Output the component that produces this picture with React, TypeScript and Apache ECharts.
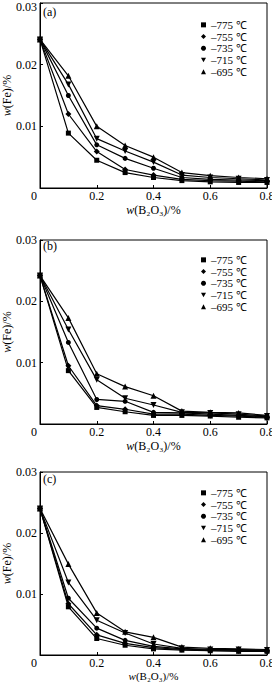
import React, { useEffect, useRef } from "react";
import * as echarts from "echarts";

const xValues = [0, 0.1, 0.2, 0.3, 0.4, 0.5, 0.6, 0.7, 0.8];
const temperatures = ["775 ℃", "755 ℃", "735 ℃", "715 ℃", "695 ℃"];
const xTickLabels = ["0", "0.2", "0.4", "0.6", "0.8"];
const panelLabels = ["(a)", "(b)", "(c)"];

// Panel (a)
const a775 = [0.0241, 0.0089, 0.0045, 0.0025, 0.0017, 0.0012, 0.001, 0.0009, 0.0009];
const a755 = [0.0241, 0.012, 0.0059, 0.003, 0.0021, 0.0014, 0.0012, 0.0011, 0.001];
const a735 = [0.0241, 0.015, 0.007, 0.0048, 0.0032, 0.0017, 0.0014, 0.0013, 0.0012];
const a715 = [0.0241, 0.0168, 0.008, 0.006, 0.0042, 0.0021, 0.0017, 0.0015, 0.0013];
const a695 = [0.0241, 0.0182, 0.01, 0.0069, 0.005, 0.0025, 0.002, 0.0017, 0.0015];
// Panel (b)
const b775 = [0.0242, 0.0087, 0.0027, 0.002, 0.0014, 0.0014, 0.0013, 0.0011, 0.001];
const b755 = [0.0242, 0.0095, 0.003, 0.0024, 0.0016, 0.0016, 0.0014, 0.0013, 0.0011];
const b735 = [0.0242, 0.0133, 0.004, 0.0037, 0.0019, 0.0018, 0.0016, 0.0014, 0.0012];
const b715 = [0.0242, 0.0154, 0.0072, 0.0042, 0.0031, 0.0019, 0.0018, 0.0016, 0.0013];
const b695 = [0.0242, 0.0173, 0.0082, 0.0061, 0.0046, 0.0021, 0.0019, 0.0018, 0.0014];
// Panel (c)
const c775 = [0.024, 0.0079, 0.0027, 0.0016, 0.001, 0.0008, 0.0007, 0.0006, 0.0006];
const c755 = [0.024, 0.0084, 0.0033, 0.0019, 0.0012, 0.0009, 0.0007, 0.0007, 0.0007];
const c735 = [0.024, 0.0093, 0.0044, 0.0024, 0.0014, 0.001, 0.0008, 0.0008, 0.0007];
const c715 = [0.024, 0.0119, 0.0057, 0.0036, 0.0018, 0.0011, 0.0009, 0.0009, 0.0008];
const c695 = [0.024, 0.0149, 0.0069, 0.0038, 0.0029, 0.0013, 0.0011, 0.001, 0.0009];

const panels = [
  [a775, a755, a735, a715, a695],
  [b775, b755, b735, b715, b695],
  [c775, c755, c735, c715, c695],
];

const DOWN_TRI = "path://M0,0L10,0L5,9Z";
const symbols = ["rect", "diamond", "circle", DOWN_TRI, "triangle"];
const symbolSizes = [5, 6, 5, 6, 6];

const FONT = "'Liberation Serif', 'Times New Roman', serif";

const gridTops = [3, 240, 472];
const gridHeights = [185, 184, 183];
const xNameGaps = [15, 15, 15];
const xNameSizes = [12, 12, 11];
const legendTops = [14, 249, 482];
const labelYs = [13, 247, 480];

export default function App() {
  const ref = useRef<HTMLDivElement>(null);
  useEffect(() => {
    if (!ref.current) return;
    const chart = echarts.init(ref.current, null, { renderer: "svg" });
    const grid = gridTops.map((top, i) => ({
      left: 40,
      top,
      width: 227,
      height: gridHeights[i],
      containLabel: false,
      outerBoundsMode: "none",
      show: true,
      borderColor: "#000",
      borderWidth: 1,
      backgroundColor: "transparent",
    }));
    const xAxis = gridTops.map((_, i) => ({
      type: "value",
      gridIndex: i,
      min: 0,
      max: 0.8,
      interval: 0.2,
      name: "{i|w}(B₂O₃)/%",
      nameLocation: "middle",
      nameGap: xNameGaps[i],
      nameMoveOverlap: false,
      nameTextStyle: {
        color: "#000",
        fontFamily: FONT,
        fontSize: xNameSizes[i],
        lineHeight: xNameSizes[i] + 1,
        rich: {
          i: { fontStyle: "italic", fontFamily: FONT, fontSize: xNameSizes[i], color: "#000" },
        },
      },
      axisLine: { show: true, lineStyle: { color: "#000", width: 1 } },
      axisTick: { show: true, inside: true, length: 3, lineStyle: { color: "#000" } },
      splitLine: { show: false },
      axisLabel: {
        color: "#000",
        fontFamily: FONT,
        fontSize: 12,
        margin: 2,
        hideOverlap: false,
        formatter: (v: number) => {
          const idx = Math.round(v / 0.2);
          const t = xTickLabels[idx] ?? String(v);
          return idx === 0 ? "{z|" + t + "}" : t;
        },
        rich: { z: { padding: [0, 12, 0, 0], fontFamily: FONT, fontSize: 12, color: "#000" } },
      },
    }));
    const yAxis = gridTops.map((_, i) => ({
      type: "value",
      gridIndex: i,
      min: 0,
      max: 0.03,
      interval: 0.01,
      name: "{i|w}(Fe)/%",
      nameLocation: "middle",
      nameRotate: 90,
      nameGap: 27,
      nameMoveOverlap: false,
      nameTextStyle: {
        color: "#000",
        fontFamily: FONT,
        fontSize: 12,
        rich: { i: { fontStyle: "italic", fontFamily: FONT, fontSize: 12, color: "#000" } },
      },
      axisLine: { show: true, lineStyle: { color: "#000", width: 1 } },
      axisTick: { show: true, inside: true, length: 3, lineStyle: { color: "#000" } },
      splitLine: { show: false },
      axisLabel: {
        color: "#000",
        fontFamily: FONT,
        fontSize: 12,
        margin: 3,
        formatter: (v: number) => {
          if (v === 0) return "";
          const t = v.toFixed(2);
          return i === 0 && Math.abs(v - 0.03) < 1e-9 ? "{top|" + t + "}" : t;
        },
        rich: { top: { padding: [8, 0, 0, 0], fontFamily: FONT, fontSize: 12, color: "#000" } },
      },
    }));
    const series: any[] = [];
    panels.forEach((panel, p) => {
      panel.forEach((vals, s) => {
        series.push({
          type: "line",
          name: temperatures[s],
          xAxisIndex: p,
          yAxisIndex: p,
          data: xValues.map((x, k) => [x, vals[k]]),
          symbol: symbols[s],
          symbolSize: symbolSizes[s],
          showSymbol: true,
          lineStyle: { color: "#000", width: 1.2 },
          itemStyle: { color: "#000" },
          emphasis: { disabled: true },
        });
      });
    });
    const legend = legendTops.map((top) => ({
      orient: "vertical",
      left: 196,
      top,
      itemWidth: 5,
      itemHeight: 5,
      itemGap: 0,
      selectedMode: false,
      data: temperatures.map((t, s) => ({ name: t, icon: symbols[s] })),
      formatter: (name: string) => "–" + name,
      textStyle: { color: "#000", fontFamily: FONT, fontSize: 11, lineHeight: 11.7 },
    }));
    const graphic = panelLabels.map((t, i) => ({
      type: "text",
      left: 43,
      top: labelYs[i] - 7,
      style: { text: t, fill: "#000", font: "12px " + FONT },
    }));
    chart.setOption({
      animation: false,
      backgroundColor: "#fff",
      grid,
      xAxis,
      yAxis,
      series,
      legend,
      graphic,
    });
    return () => chart.dispose();
  }, []);
  return (
    <div
      ref={ref}
      style={{ position: "fixed", left: 0, top: 0, width: 272, height: 682 }}
    />
  );
}
